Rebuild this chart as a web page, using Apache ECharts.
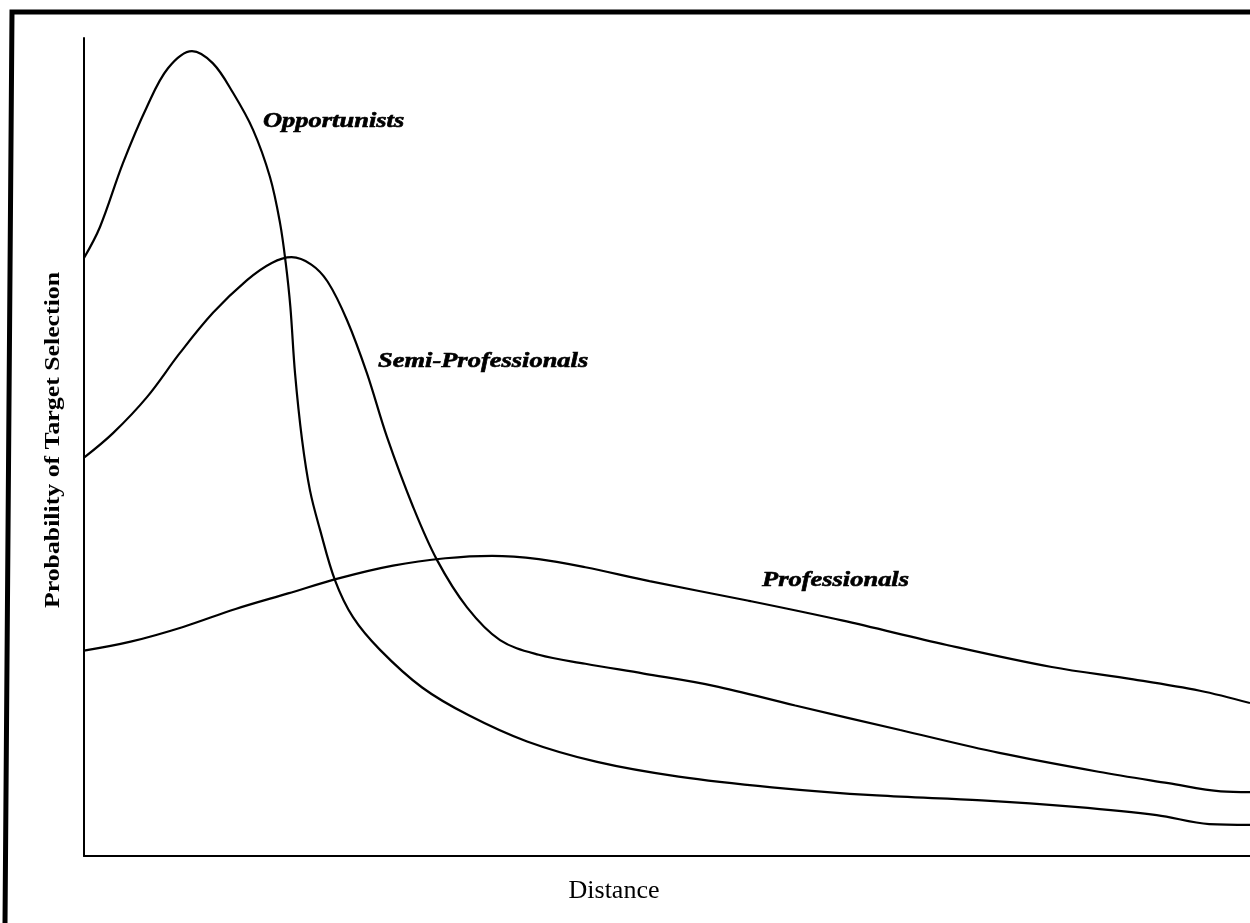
<!DOCTYPE html>
<html>
<head>
<meta charset="utf-8">
<title>Probability of Target Selection by Distance</title>
<script src="https://cdn.jsdelivr.net/npm/echarts@6/dist/echarts.min.js"></script>
<style>
  html, body { margin: 0; padding: 0; background: #fff; }
  #chart { width: 1250px; height: 923px; }
</style>
</head>
<body>
<div id="chart"></div>
<script>
// distance (0-100) / probability (0-100)
var opportunists = [
  [0, 73.1], [1.37, 76.9], [3.34, 84.7], [5.4, 91.6], [7.2, 96.3], [9.26, 98.4],
  [11.06, 96.9], [12.78, 93.3], [14.49, 88.8], [15.95, 83.0], [16.81, 77.4], [17.3, 72.5],
  [17.7, 67.1], [18.1, 59.0], [18.7, 50.9], [19.38, 44.7], [20.24, 39.9], [21.53, 33.7],
  [23.07, 29.2], [25.39, 25.2], [29, 20.6], [33, 17.2], [38, 14.0], [44, 11.5],
  [51, 9.7], [59, 8.4], [68, 7.4], [77, 6.8], [85, 6.0], [92, 5.0], [96.5, 3.9], [100, 3.8]
]
var semiProfessionals = [
  [0, 48.7], [2.49, 51.7], [5.4, 56.1], [8.23, 61.5], [11.06, 66.4], [13.98, 70.4],
  [16.1, 72.5], [17.8, 73.2], [19.5, 72.3], [20.9, 70.2], [22.56, 65.5], [24.27, 59.0],
  [25.99, 51.2], [28.22, 42.7], [30.27, 36.2], [32.85, 30.4], [35.68, 26.4], [39, 24.6],
  [43, 23.5], [48, 22.3], [54, 20.8], [61, 18.4], [70, 15.4], [78.5, 12.6],
  [87, 10.3], [93, 8.9], [97.5, 7.9], [100, 7.8]
]
var professionals = [
  [0, 25.1], [4, 26.2], [8.5, 28.0], [13, 30.2], [17.5, 32.1], [22, 34.0],
  [26.5, 35.5], [31, 36.4], [35, 36.7], [39, 36.3], [43, 35.3], [48.5, 33.6],
  [57, 31.2], [65, 28.8], [74, 25.8], [83, 23.1], [90, 21.6], [95.7, 20.2], [100, 18.7]
]
var seriesNames = ['Opportunists', 'Semi-Professionals', 'Professionals']
var xAxisTitle = 'Distance'
var yAxisTitle = 'Probability of Target Selection'

var chart = echarts.init(document.getElementById('chart'), null, { renderer: 'canvas' })

function curve(name, data) {
  return {
    name: name,
    type: 'line',
    data: data,
    smooth: 0.35,
    showSymbol: false,
    lineStyle: { color: '#000', width: 2.2 },
    silent: true
  }
}

function curveLabel(text, x, y) {
  return {
    type: 'text',
    x: x,
    y: y,
    scaleX: 1.26,
    style: {
      text: text,
      fill: '#000',
      stroke: '#000',
      lineWidth: 0.6,
      font: 'italic bold 21px "Liberation Serif", serif',
      verticalAlign: 'middle'
    }
  }
}

var option = {
  animation: false,
  backgroundColor: '#fff',
  grid: { left: 84, right: 0, top: 38, bottom: 67 },
  xAxis: {
    type: 'value',
    min: 0,
    max: 100,
    axisLine: { lineStyle: { color: '#000', width: 2 } },
    axisTick: { show: false },
    axisLabel: { show: false },
    splitLine: { show: false }
  },
  yAxis: {
    type: 'value',
    min: 0,
    max: 100,
    axisLine: { show: true, lineStyle: { color: '#000', width: 2 } },
    axisTick: { show: false },
    axisLabel: { show: false },
    splitLine: { show: false }
  },
  series: [
    curve(seriesNames[0], opportunists),
    curve(seriesNames[1], semiProfessionals),
    curve(seriesNames[2], professionals)
  ],
  graphic: [
    // scanned page frame
    {
      type: 'polyline',
      shape: { points: [[5, 923], [12, 12], [1250, 12]] },
      style: { stroke: '#000', lineWidth: 5, fill: null }
    },
    curveLabel(seriesNames[0], 263, 122),
    curveLabel(seriesNames[1], 378, 362),
    curveLabel(seriesNames[2], 762, 581),
    {
      type: 'text',
      x: 614,
      y: 891,
      style: {
        text: xAxisTitle,
        fill: '#000',
        font: '26px "Liberation Serif", serif',
        align: 'center',
        verticalAlign: 'middle'
      }
    },
    {
      type: 'text',
      x: 54,
      y: 440,
      rotation: Math.PI / 2,
      scaleX: 1.29,
      style: {
        text: yAxisTitle,
        fill: '#000',
        font: 'bold 20px "Liberation Serif", serif',
        align: 'center',
        verticalAlign: 'middle'
      }
    }
  ]
}

chart.setOption(option)
</script>
</body>
</html>
